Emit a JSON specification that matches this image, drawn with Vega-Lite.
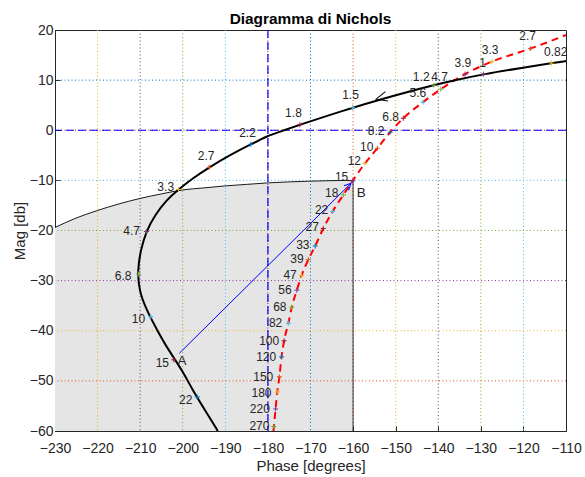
{
 "$schema": "https://vega.github.io/schema/vega-lite/v6.json",
 "width": 511,
 "height": 401,
 "autosize": {"type": "none"},
 "padding": {"left": 55, "top": 30, "right": 19, "bottom": 46},
 "background": "white",
 "title": {"text": "Diagramma di Nichols", "font": "Liberation Sans", "fontSize": 15.4, "fontWeight": "bold", "color": "#000000", "offset": -4, "anchor": "middle"},
 "config": {
  "view": {"stroke": "#262626", "strokeWidth": 1},
  "axis": {"labelFont": "Liberation Sans", "labelFontSize": 14, "labelColor": "#262626", "titleFont": "Liberation Sans", "titleFontSize": 15, "titleFontWeight": "normal", "titleColor": "#262626", "domainColor": "#262626", "tickColor": "#262626", "tickSize": -5, "grid": false, "labelFlush": false, "labelOverlap": false},
  "text": {"font": "Liberation Sans"}
 },
 "datasets": {
  "bnd": [
   {"p": -230, "m": -19.4}, {"p": -225, "m": -17.5}, {"p": -220, "m": -16.0}, {"p": -215, "m": -14.7},
   {"p": -210, "m": -13.6}, {"p": -205, "m": -12.7}, {"p": -200, "m": -11.9}, {"p": -195, "m": -11.5},
   {"p": -190, "m": -11.1}, {"p": -185, "m": -10.8}, {"p": -180, "m": -10.5}, {"p": -175, "m": -10.3},
   {"p": -170, "m": -10.15}, {"p": -165, "m": -10.05}, {"p": -160, "m": -10.0}
  ],
  "gx": [{"p": -220}, {"p": -210}, {"p": -200}, {"p": -190}, {"p": -180}, {"p": -170}, {"p": -160}, {"p": -150}, {"p": -140}, {"p": -130}, {"p": -120}],
  "gy": [{"m": -50}, {"m": -40}, {"m": -30}, {"m": -20}, {"m": -10}, {"m": 0}, {"m": 10}],
  "ol": [
   {"p": -110, "m": 13.8}, {"p": -113.4, "m": 13.4}, {"p": -120, "m": 12.5}, {"p": -129.4, "m": 11.2},
   {"p": -136.5, "m": 9.9}, {"p": -141, "m": 9.0}, {"p": -147.4, "m": 7.6}, {"p": -153.7, "m": 6.1},
   {"p": -160.1, "m": 4.5}, {"p": -166, "m": 2.9}, {"p": -172.5, "m": 1.1}, {"p": -177.2, "m": -0.3},
   {"p": -180, "m": -1.1}, {"p": -184, "m": -2.8}, {"p": -189, "m": -5.0}, {"p": -193.8, "m": -7.4},
   {"p": -197.5, "m": -9.5}, {"p": -201, "m": -11.8}, {"p": -203.8, "m": -13.9}, {"p": -206.5, "m": -16.9},
   {"p": -208.5, "m": -20.0}, {"p": -209.9, "m": -23.9}, {"p": -210.6, "m": -27.9}, {"p": -210.3, "m": -31.9},
   {"p": -208.5, "m": -35.9}, {"p": -206.0, "m": -39.9}, {"p": -203.4, "m": -43.8}, {"p": -200.2, "m": -47.8},
   {"p": -197.7, "m": -51.8}, {"p": -194.8, "m": -55.8}, {"p": -191.9, "m": -59.8}, {"p": -191.8, "m": -60}
  ],
  "cl": [
   {"p": -110, "m": 19.0}, {"p": -118.3, "m": 16.3}, {"p": -127.4, "m": 13.7}, {"p": -133.7, "m": 11.2},
   {"p": -139.4, "m": 8.2}, {"p": -143.6, "m": 5.6}, {"p": -148.2, "m": 2.4}, {"p": -151.3, "m": -0.4},
   {"p": -154.3, "m": -3.6}, {"p": -157.2, "m": -6.6}, {"p": -160.1, "m": -10.1}, {"p": -162.3, "m": -12.9},
   {"p": -164.8, "m": -16.2}, {"p": -167.0, "m": -19.6}, {"p": -168.9, "m": -23.1}, {"p": -170.5, "m": -25.8},
   {"p": -172.1, "m": -29.0}, {"p": -173.2, "m": -31.9}, {"p": -174.4, "m": -35.3}, {"p": -175.2, "m": -38.5},
   {"p": -176.2, "m": -42.0}, {"p": -176.8, "m": -45.2}, {"p": -177.3, "m": -49.2}, {"p": -177.8, "m": -52.2},
   {"p": -178.2, "m": -55.6}, {"p": -178.6, "m": -59.1}, {"p": -178.7, "m": -60}
  ],
  "fr": [
   {"s": "L", "f": "0.82", "p": -113.4, "m": 13.4, "lp": -112.4, "lm": 15.6},
   {"s": "L", "f": "1", "p": -129.4, "m": 11.2, "lp": -129.6, "lm": 13.4},
   {"s": "L", "f": "1.2", "p": -141.0, "m": 9.0, "lp": -144.0, "lm": 10.7},
   {"s": "L", "f": "1.5", "p": -160.1, "m": 4.5, "lp": -160.6, "lm": 7.0},
   {"s": "L", "f": "1.8", "p": -172.5, "m": 1.1, "lp": -174.0, "lm": 3.4},
   {"s": "L", "f": "2.2", "p": -184.0, "m": -2.8, "lp": -184.8, "lm": -0.5},
   {"s": "L", "f": "2.7", "p": -193.8, "m": -7.4, "lp": -194.5, "lm": -5.1},
   {"s": "L", "f": "3.3", "p": -201.0, "m": -11.8, "lp": -204.0, "lm": -11.3},
   {"s": "L", "f": "4.7", "p": -208.5, "m": -20.2, "lp": -212.0, "lm": -20.0},
   {"s": "L", "f": "6.8", "p": -210.4, "m": -28.7, "lp": -214.0, "lm": -29.1},
   {"s": "L", "f": "10", "p": -207.5, "m": -37.2, "lp": -210.4, "lm": -37.7},
   {"s": "L", "f": "15", "p": -202.1, "m": -45.8, "lp": -204.8, "lm": -46.4},
   {"s": "L", "f": "22", "p": -196.6, "m": -53.2, "lp": -199.3, "lm": -53.8},
   {"s": "T", "f": "2.7", "p": -118.3, "m": 16.3, "lp": -119.0, "lm": 18.8},
   {"s": "T", "f": "3.3", "p": -127.4, "m": 13.7, "lp": -127.8, "lm": 16.0},
   {"s": "T", "f": "3.9", "p": -133.7, "m": 11.2, "lp": -134.2, "lm": 13.4},
   {"s": "T", "f": "4.7", "p": -139.4, "m": 8.2, "lp": -139.7, "lm": 10.6},
   {"s": "T", "f": "5.6", "p": -143.6, "m": 5.6, "lp": -144.8, "lm": 7.5},
   {"s": "T", "f": "6.8", "p": -148.2, "m": 2.4, "lp": -151.2, "lm": 2.7},
   {"s": "T", "f": "8.2", "p": -151.3, "m": -0.4, "lp": -154.6, "lm": -0.15},
   {"s": "T", "f": "10", "p": -154.3, "m": -3.6, "lp": -156.8, "lm": -3.3},
   {"s": "T", "f": "12", "p": -157.2, "m": -6.6, "lp": -159.7, "lm": -6.1},
   {"s": "T", "f": "15", "p": -160.1, "m": -10.1, "lp": -162.7, "lm": -9.4},
   {"s": "T", "f": "18", "p": -162.3, "m": -12.9, "lp": -165.0, "lm": -12.6},
   {"s": "T", "f": "22", "p": -164.8, "m": -16.2, "lp": -167.4, "lm": -15.9},
   {"s": "T", "f": "27", "p": -167.0, "m": -19.6, "lp": -169.6, "lm": -19.4},
   {"s": "T", "f": "33", "p": -168.9, "m": -23.1, "lp": -171.8, "lm": -22.9},
   {"s": "T", "f": "39", "p": -170.5, "m": -25.8, "lp": -173.2, "lm": -25.7},
   {"s": "T", "f": "47", "p": -172.1, "m": -29.0, "lp": -174.8, "lm": -28.9},
   {"s": "T", "f": "56", "p": -173.2, "m": -31.9, "lp": -176.0, "lm": -31.9},
   {"s": "T", "f": "68", "p": -174.4, "m": -35.3, "lp": -177.2, "lm": -35.2},
   {"s": "T", "f": "82", "p": -175.2, "m": -38.5, "lp": -178.2, "lm": -38.5},
   {"s": "T", "f": "100", "p": -176.2, "m": -42.0, "lp": -179.7, "lm": -42.0},
   {"s": "T", "f": "120", "p": -176.8, "m": -45.2, "lp": -180.4, "lm": -45.2},
   {"s": "T", "f": "150", "p": -177.3, "m": -49.2, "lp": -181.1, "lm": -49.2},
   {"s": "T", "f": "180", "p": -177.8, "m": -52.2, "lp": -181.5, "lm": -52.4},
   {"s": "T", "f": "220", "p": -178.2, "m": -55.6, "lp": -181.9, "lm": -55.7},
   {"s": "T", "f": "270", "p": -178.6, "m": -59.1, "lp": -182.0, "lm": -59.1}
  ],
  "ab": [{"t": "A", "p": -200.8, "m": -44.5}, {"t": "B", "p": -160.5, "m": -10.6}],
  "ablab": [{"t": "A", "p": -200.2, "m": -46.0}, {"t": "B", "p": -158.1, "m": -12.6}]
 },
 "layer": [
  {"data": {"name": "bnd"}, "mark": {"type": "area", "color": "#E5E5E5", "interpolate": "monotone"},
   "encoding": {
    "x": {"field": "p", "type": "quantitative", "title": "Phase [degrees]", "scale": {"domain": [-230, -110], "nice": false, "zero": false},
     "axis": {"values": [-230, -220, -210, -200, -190, -180, -170, -160, -150, -140, -130, -120, -110], "labelPadding": 15, "titlePadding": 3}},
    "y": {"field": "m", "type": "quantitative", "title": "Mag [db]", "scale": {"domain": [-60, 20], "nice": false, "zero": false},
     "axis": {"values": [-60, -50, -40, -30, -20, -10, 0, 10, 20], "labelPadding": 7, "titlePadding": 2}},
    "y2": {"datum": -60}}},
  {"data": {"name": "gx"}, "transform": [{"calculate": "((datum.p + 230) / 10 + 1) % 7", "as": "ci"}],
   "mark": {"type": "rule", "strokeDash": [1, 2.5], "strokeWidth": 1},
   "encoding": {
    "x": {"field": "p", "type": "quantitative", "title": "Phase [degrees]", "scale": {"domain": [-230, -110], "nice": false, "zero": false}},
    "color": {"field": "ci", "type": "nominal", "scale": {"domain": [0, 1, 2, 3, 4, 5, 6], "range": ["#0072BD", "#D95319", "#EDB120", "#7E2F8E", "#77AC30", "#4DBEEE", "#A2142F"]}, "legend": null}}},
  {"data": {"name": "gy"}, "transform": [{"calculate": "((datum.m + 60) / 10) % 7", "as": "ci"}],
   "mark": {"type": "rule", "strokeDash": [1, 2.5], "strokeWidth": 1},
   "encoding": {
    "y": {"field": "m", "type": "quantitative", "title": "Mag [db]", "scale": {"domain": [-60, 20], "nice": false, "zero": false}},
    "color": {"field": "ci", "type": "nominal", "scale": {"domain": [0, 1, 2, 3, 4, 5, 6], "range": ["#0072BD", "#D95319", "#EDB120", "#7E2F8E", "#77AC30", "#4DBEEE", "#A2142F"]}, "legend": null}}},
  {"data": {"values": [{"p": -180}]}, "mark": {"type": "rule", "color": "#0000FF", "strokeDash": [8, 4], "strokeWidth": 1.2},
   "encoding": {"x": {"field": "p", "type": "quantitative", "title": "Phase [degrees]", "scale": {"domain": [-230, -110], "nice": false, "zero": false}}}},
  {"data": {"values": [{"m": 0}]}, "mark": {"type": "rule", "color": "#0000FF", "strokeDash": [8, 4], "strokeWidth": 1.2},
   "encoding": {"y": {"field": "m", "type": "quantitative", "title": "Mag [db]", "scale": {"domain": [-60, 20], "nice": false, "zero": false}}}},
  {"data": {"values": [{"p": -160, "m": -10}]}, "mark": {"type": "rule", "color": "#000000", "strokeWidth": 0.8},
   "encoding": {
    "x": {"field": "p", "type": "quantitative", "title": "Phase [degrees]", "scale": {"domain": [-230, -110], "nice": false, "zero": false}},
    "y": {"field": "m", "type": "quantitative", "title": "Mag [db]", "scale": {"domain": [-60, 20], "nice": false, "zero": false}},
    "y2": {"datum": -60}}},
  {"data": {"name": "bnd"}, "mark": {"type": "line", "color": "#000000", "strokeWidth": 0.9, "interpolate": "monotone"},
   "encoding": {
    "x": {"field": "p", "type": "quantitative", "title": "Phase [degrees]", "scale": {"domain": [-230, -110], "nice": false, "zero": false}},
    "y": {"field": "m", "type": "quantitative", "title": "Mag [db]", "scale": {"domain": [-60, 20], "nice": false, "zero": false}}}},
  {"data": {"name": "cl"}, "mark": {"type": "line", "color": "#FF0000", "strokeWidth": 2, "strokeDash": [7, 5], "interpolate": "monotone"},
   "encoding": {
    "x": {"field": "p", "type": "quantitative", "title": "Phase [degrees]", "scale": {"domain": [-230, -110], "nice": false, "zero": false}},
    "y": {"field": "m", "type": "quantitative", "title": "Mag [db]", "scale": {"domain": [-60, 20], "nice": false, "zero": false}}}},
  {"data": {"name": "ol"}, "mark": {"type": "line", "color": "#000000", "strokeWidth": 2, "interpolate": "basis"},
   "encoding": {
    "x": {"field": "p", "type": "quantitative", "title": "Phase [degrees]", "scale": {"domain": [-230, -110], "nice": false, "zero": false}},
    "y": {"field": "m", "type": "quantitative", "title": "Mag [db]", "scale": {"domain": [-60, 20], "nice": false, "zero": false}},
    "order": {"value": null}}},
  {"data": {"name": "ab"}, "mark": {"type": "line", "color": "#0000FF", "strokeWidth": 1},
   "encoding": {
    "x": {"field": "p", "type": "quantitative", "title": "Phase [degrees]", "scale": {"domain": [-230, -110], "nice": false, "zero": false}},
    "y": {"field": "m", "type": "quantitative", "title": "Mag [db]", "scale": {"domain": [-60, 20], "nice": false, "zero": false}},
    "order": {"value": null}}},
  {"data": {"name": "ab"}, "transform": [{"filter": "datum.t === 'B'"}],
   "mark": {"type": "point", "shape": "M -0.5 1 L 0 0 L 0.5 1", "angle": 45, "size": 170, "filled": false, "color": "#0000FF", "strokeWidth": 1, "opacity": 1},
   "encoding": {
    "x": {"field": "p", "type": "quantitative", "title": "Phase [degrees]", "scale": {"domain": [-230, -110], "nice": false, "zero": false}},
    "y": {"field": "m", "type": "quantitative", "title": "Mag [db]", "scale": {"domain": [-60, 20], "nice": false, "zero": false}}}},
  {"data": {"values": [{"p": -154.6, "m": 6.2}]},
   "mark": {"type": "point", "shape": "M 1 -0.45 L 0 0 L 1 0.45", "angle": 345, "size": 484, "filled": false, "color": "#000000", "strokeWidth": 1, "opacity": 1},
   "encoding": {
    "x": {"field": "p", "type": "quantitative", "title": "Phase [degrees]", "scale": {"domain": [-230, -110], "nice": false, "zero": false}},
    "y": {"field": "m", "type": "quantitative", "title": "Mag [db]", "scale": {"domain": [-60, 20], "nice": false, "zero": false}}}},
  {"data": {"name": "fr"}, "transform": [{"window": [{"op": "row_number", "as": "rn"}], "groupby": ["s"]}, {"calculate": "(datum.rn + (datum.s === 'L' ? 1 : 0)) % 7", "as": "ci"}],
   "mark": {"type": "point", "shape": "M -1 0 L 1 0 M 0 -1 L 0 1", "size": 25, "filled": false, "strokeWidth": 1, "opacity": 1},
   "encoding": {
    "x": {"field": "p", "type": "quantitative", "title": "Phase [degrees]", "scale": {"domain": [-230, -110], "nice": false, "zero": false}},
    "y": {"field": "m", "type": "quantitative", "title": "Mag [db]", "scale": {"domain": [-60, 20], "nice": false, "zero": false}},
    "color": {"field": "ci", "type": "nominal", "scale": {"domain": [0, 1, 2, 3, 4, 5, 6], "range": ["#0072BD", "#D95319", "#EDB120", "#7E2F8E", "#77AC30", "#4DBEEE", "#A2142F"]}, "legend": null}}},
  {"data": {"name": "fr"}, "mark": {"type": "text", "fontSize": 12, "color": "#262626", "align": "center", "baseline": "middle"},
   "encoding": {
    "x": {"field": "lp", "type": "quantitative", "title": "Phase [degrees]", "scale": {"domain": [-230, -110], "nice": false, "zero": false}},
    "y": {"field": "lm", "type": "quantitative", "title": "Mag [db]", "scale": {"domain": [-60, 20], "nice": false, "zero": false}},
    "text": {"field": "f"}}},
  {"data": {"name": "ablab"}, "mark": {"type": "text", "fontSize": 13.5, "color": "#262626", "align": "center", "baseline": "middle"},
   "encoding": {
    "x": {"field": "p", "type": "quantitative", "title": "Phase [degrees]", "scale": {"domain": [-230, -110], "nice": false, "zero": false}},
    "y": {"field": "m", "type": "quantitative", "title": "Mag [db]", "scale": {"domain": [-60, 20], "nice": false, "zero": false}},
    "text": {"field": "t"}}}
 ]
}
